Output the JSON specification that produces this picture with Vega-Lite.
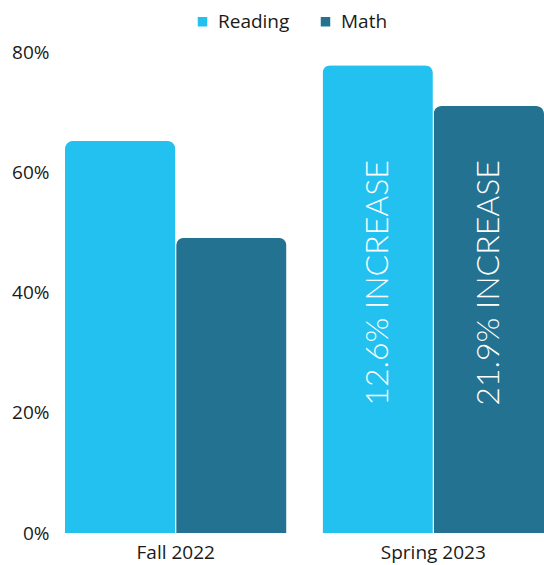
{
  "$schema": "https://vega.github.io/schema/vega-lite/v6.json",
  "autosize": {"type": "none"},
  "padding": {"left": 65, "top": 52, "right": 0, "bottom": 32},
  "width": 479,
  "height": 481,
  "background": "white",
  "config": {
    "view": {"stroke": null},
    "font": "Open Sans",
    "axis": {"labelFont": "Open Sans", "labelColor": "#1a1a1a", "domain": false, "ticks": false, "grid": false, "title": null},
    "legend": {"labelFont": "Open Sans"}
  },
  "data": {
    "values": [
      {"term": "Fall 2022", "subject": "Reading", "value": 65.2, "label": ""},
      {"term": "Fall 2022", "subject": "Math", "value": 49.1, "label": ""},
      {"term": "Spring 2023", "subject": "Reading", "value": 77.8, "label": "12.6% INCREASE"},
      {"term": "Spring 2023", "subject": "Math", "value": 71.0, "label": "21.9% INCREASE"}
    ]
  },
  "encoding": {
    "x": {
      "field": "term", "type": "nominal", "sort": ["Fall 2022", "Spring 2023"],
      "scale": {"paddingInner": 0.14, "paddingOuter": 0},
      "axis": {"labelAngle": 0, "labelFontSize": 19, "labelPadding": 10}
    },
    "xOffset": {"field": "subject", "type": "nominal", "sort": ["Reading", "Math"], "scale": {"paddingInner": 0.007}}
  },
  "layer": [
    {
      "mark": {"type": "bar", "cornerRadiusTopLeft": 8, "cornerRadiusTopRight": 8},
      "encoding": {
        "y": {
          "field": "value", "type": "quantitative",
          "scale": {"domain": [0, 80]},
          "axis": {"values": [0, 20, 40, 60, 80], "labelExpr": "datum.value + '%'", "labelFontSize": 19, "labelPadding": 16}
        },
        "color": {
          "field": "subject", "type": "nominal", "sort": ["Reading", "Math"],
          "scale": {"domain": ["Reading", "Math"], "range": ["#22c1f0", "#247291"]},
          "legend": {
            "title": null, "orient": "none", "direction": "horizontal",
            "legendX": 128, "legendY": -40,
            "symbolType": "square", "symbolSize": 90, "symbolStrokeWidth": 0,
            "labelFontSize": 19, "labelColor": "#1a1a1a", "labelOffset": 6,
            "columnPadding": 26, "padding": 0
          }
        }
      }
    },
    {
      "mark": {"type": "text", "angle": 270, "color": "white", "font": "Lato", "fontWeight": 300, "fontSize": 32, "align": "center", "baseline": "middle"},
      "encoding": {
        "y": {"datum": 41.6, "type": "quantitative"},
        "text": {"field": "label"}
      }
    }
  ]
}
